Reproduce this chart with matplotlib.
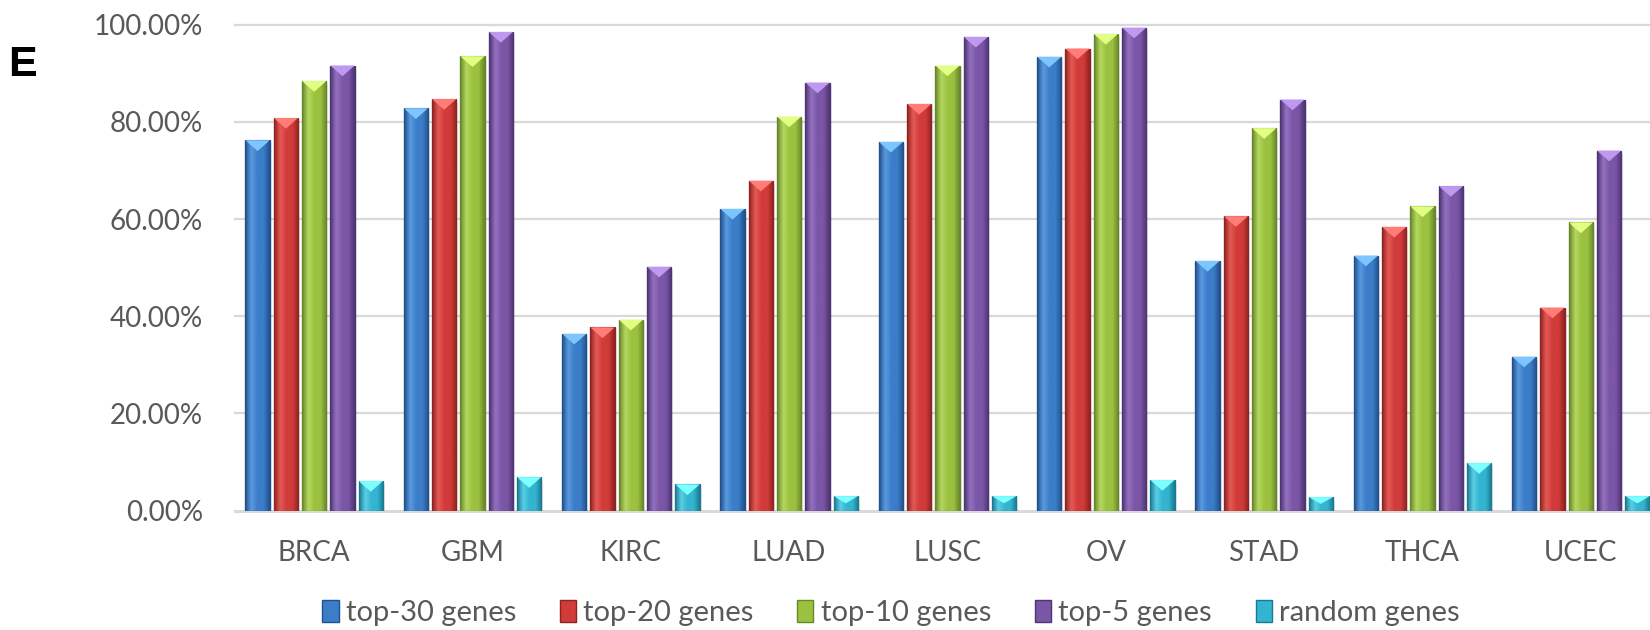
import numpy as np
import matplotlib.pyplot as plt
from matplotlib.colors import LinearSegmentedColormap, to_rgb
from matplotlib.patches import Patch, Polygon

# share of samples explained, per cancer type
cancers = ['BRCA', 'GBM', 'KIRC', 'LUAD', 'LUSC', 'OV', 'STAD', 'THCA', 'UCEC']
top30 = [76.2, 82.8, 36.4, 62.1, 75.9, 93.4, 51.4, 52.5, 31.7]
top20 = [80.8, 84.7, 37.7, 67.9, 83.7, 95.1, 60.6, 58.4, 41.8]
top10 = [88.4, 93.5, 39.3, 81.1, 91.6, 98.1, 78.7, 62.6, 59.3]
top5 = [91.6, 98.5, 50.2, 88.1, 97.5, 99.4, 84.6, 66.8, 74.1]
random_genes = [6.1, 6.9, 5.4, 3.0, 3.0, 6.3, 2.8, 9.8, 3.0]

series_names = ['top-30 genes', 'top-20 genes', 'top-10 genes', 'top-5 genes', 'random genes']
series_vals = [top30, top20, top10, top5, random_genes]
# base, light, dark
palette = [('#3b7dc8', '#5a9ae0', '#22508c'),
           ('#d13b39', '#e65a56', '#8e2321'),
           ('#9bc23f', '#b4d860', '#67862a'),
           ('#7b56a7', '#9472c0', '#4d3472'),
           ('#33b4d0', '#5ad0e8', '#1b7a90')]

plt.rcParams['font.family'] = ['Lato', 'DejaVu Sans']

fig = plt.figure(figsize=(16.5, 6.3), dpi=100)
ax = fig.add_axes([0.14242, 0.18937, 0.86364, 0.77143])

x = np.arange(len(cancers))
pitch = 0.1788
width = 0.1535

for i, (vals, (base, light, dark)) in enumerate(zip(series_vals, palette)):
    frac = np.array(vals) / 100.0
    pos = x + (i - 2) * pitch
    bars = ax.bar(pos, frac, width, color=base, edgecolor=dark, linewidth=0.8, zorder=3)
    cmap = LinearSegmentedColormap.from_list('b%d' % i, [dark, light, base, base, dark])
    grad = np.linspace(0, 1, 64).reshape(1, -1)
    for b, xc, h in zip(bars, pos, frac):
        x0, x1 = xc - width / 2, xc + width / 2
        im = ax.imshow(grad, cmap=cmap, extent=[x0, x1, 0, h], aspect='auto',
                       interpolation='bicubic', zorder=3.5)
        im.set_clip_path(b)
        # bevelled top
        d = min(0.022, h * 0.5)
        cap_col = tuple(min(1, c * 1.15 + 0.08) for c in to_rgb(light))
        ax.add_patch(Polygon([(x0, h), (x1, h), (xc, h - d)], closed=True,
                             facecolor=cap_col, edgecolor='none', zorder=4))
        ax.add_patch(Polygon([(x0, h), (x0, 0), (x1, 0), (x1, h)], closed=False,
                             fill=False, edgecolor=dark, linewidth=0.9, zorder=4.5))
        # soft shadow on the right
        ax.add_patch(Polygon([(x1, h - 0.005), (x1 + 0.012, h - 0.008),
                              (x1 + 0.012, -0.004), (x1, -0.004)], closed=True,
                             facecolor='#000000', alpha=0.08, edgecolor='none', zorder=2.5))

yt = np.arange(0, 1.01, 0.2)
for y in yt:
    ax.axhline(y, color='#d9d9d9', linewidth=1.6 if y > 0 else 2.2, zorder=1, clip_on=False)

ax.set_xlim(-0.5, len(cancers) - 0.5)
ax.set_ylim(0, 1.0)
ax.set_yticks(yt)
ax.set_yticklabels(['%.2f%%' % (v * 100) for v in yt])
ax.set_xticks(x)
ax.set_xticklabels(cancers)
ax.tick_params(axis='y', length=0, pad=23, labelsize=20, labelcolor='#595959')
ax.tick_params(axis='x', length=0, pad=21, labelsize=20, labelcolor='#595959')
for s in ax.spines.values():
    s.set_visible(False)

handles = [Patch(facecolor=p[0], edgecolor=p[2], linewidth=1) for p in palette]
fig.legend(handles, series_names, loc='center', bbox_to_anchor=(0.540, 0.027), ncol=5,
           frameon=False, fontsize=21, labelcolor='#595959', handlelength=0.55,
           handleheight=0.75, handletextpad=0.25, columnspacing=1.5)

fig.text(0.005, 0.897, 'E', fontsize=31, fontweight='bold', family='Liberation Sans',
         color='black', va='center', ha='left')

fig.savefig('out.png', dpi=100)
